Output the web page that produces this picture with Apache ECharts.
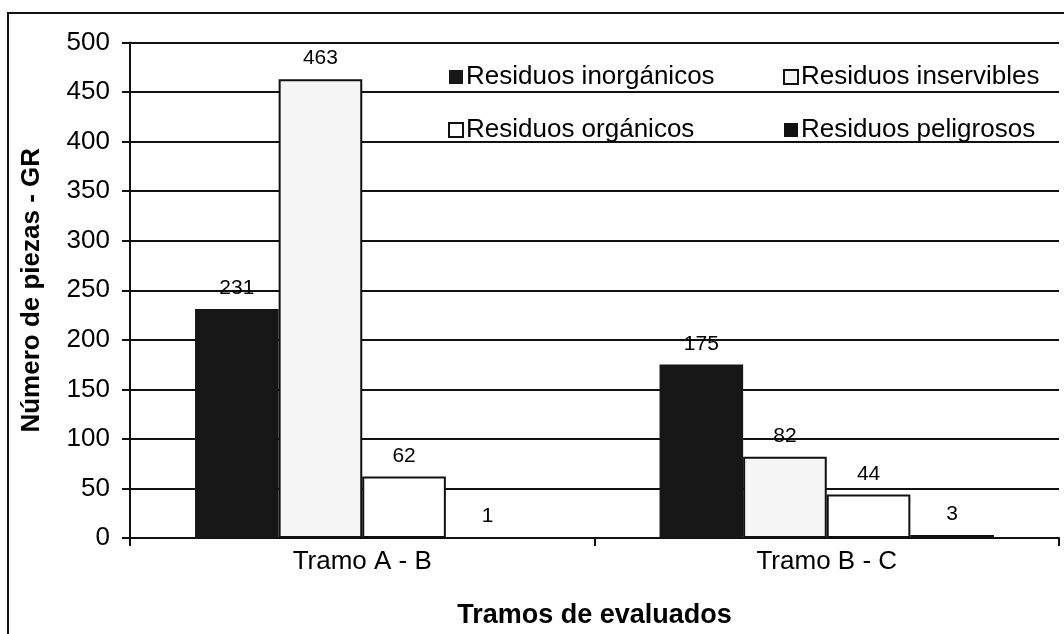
<!DOCTYPE html>
<html>
<head>
<meta charset="utf-8">
<script src="https://cdn.jsdelivr.net/npm/echarts@6/dist/echarts.min.js"></script>
<style>
  html, body { margin: 0; padding: 0; background: #fff; }
  #main { width: 1064px; height: 634px; }
</style>
</head>
<body>
<div id="main"></div>
<script>
var categories = ['Tramo A - B', 'Tramo B - C'];
var inorganicos = [231, 175];
var inservibles = [463, 82];
var organicos = [62, 44];
var peligrosos = [1, 3];
var yTicks = { min: 0, max: 500, interval: 50 };

var font = "'Liberation Sans', Arial, sans-serif";

// etiquetas de valor encima de cada barra
var label = {
  show: true,
  position: 'top',
  distance: 10,
  color: '#000',
  fontSize: 21,
  fontFamily: font
};

var legendText = { fontSize: 26, color: '#000', fontFamily: font, padding: [0, 0, 0, -2] };

var myChart = echarts.init(document.getElementById('main'));

var option = {
  animation: false,
  backgroundColor: '#fff',
  graphic: [
    {
      type: 'rect',
      shape: { x: 8, y: 13, width: 1120, height: 700 },
      style: { fill: 'none', stroke: '#111', lineWidth: 2 },
      z: -1
    }
  ],
  grid: { left: 130, right: 5, top: 42.5, bottom: 91 },
  legend: [
    {
      orient: 'vertical',
      left: 443,
      top: 59,
      itemGap: 27,
      itemWidth: 14,
      itemHeight: 14,
      icon: 'rect',
      textStyle: legendText,
      data: ['Residuos inorgánicos', 'Residuos orgánicos']
    },
    {
      orient: 'vertical',
      left: 778,
      top: 59,
      itemGap: 27,
      itemWidth: 14,
      itemHeight: 14,
      icon: 'rect',
      textStyle: legendText,
      data: ['Residuos inservibles', 'Residuos peligrosos']
    }
  ],
  xAxis: {
    type: 'category',
    data: categories,
    name: 'Tramos de evaluados',
    nameLocation: 'middle',
    nameGap: 64,
    nameTextStyle: { fontSize: 27, fontWeight: 'bold', color: '#000', fontFamily: font },
    axisLine: { lineStyle: { color: '#111', width: 2 } },
    axisTick: { show: true, length: 8, lineStyle: { color: '#111', width: 2 } },
    axisLabel: { margin: 11, fontSize: 26, color: '#000', fontFamily: font }
  },
  yAxis: {
    type: 'value',
    min: yTicks.min,
    max: yTicks.max,
    interval: yTicks.interval,
    name: 'Número de piezas - GR',
    nameLocation: 'middle',
    nameGap: 85,
    nameTextStyle: { fontSize: 26, fontWeight: 'bold', color: '#000', fontFamily: font },
    axisLine: { show: true, lineStyle: { color: '#111', width: 2 } },
    axisTick: { show: true, length: 8, lineStyle: { color: '#111', width: 2 } },
    axisLabel: { margin: 20, fontSize: 26, color: '#000', fontFamily: font },
    splitLine: { show: true, lineStyle: { color: '#111', width: 2 } }
  },
  series: [
    {
      name: 'Residuos inorgánicos',
      type: 'bar',
      barGap: 0,
      barCategoryGap: '28%',
      itemStyle: { color: '#171717' },
      label: label,
      data: inorganicos
    },
    {
      name: 'Residuos inservibles',
      type: 'bar',
      itemStyle: { color: '#f5f5f5', borderColor: '#111', borderWidth: 2 },
      label: label,
      data: inservibles
    },
    {
      name: 'Residuos orgánicos',
      type: 'bar',
      itemStyle: { color: '#ffffff', borderColor: '#111', borderWidth: 2 },
      label: label,
      data: organicos
    },
    {
      name: 'Residuos peligrosos',
      type: 'bar',
      itemStyle: { color: '#111111' },
      label: label,
      data: peligrosos
    }
  ]
};
myChart.setOption(option);
</script>
</body>
</html>
